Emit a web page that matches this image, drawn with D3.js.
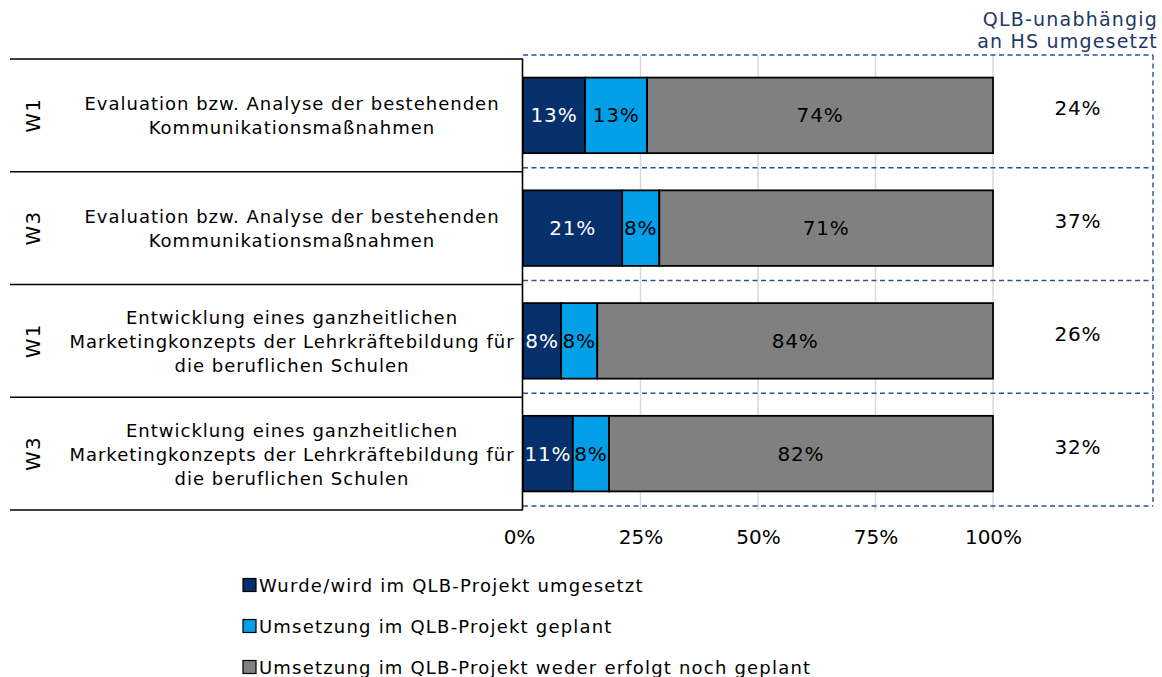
<!DOCTYPE html>
<html><head><meta charset="utf-8">
<script src="https://cdn.jsdelivr.net/npm/d3@7"></script>
<style>
body{margin:0;background:#fff;}
svg text{font-family:"DejaVu Sans",Verdana,sans-serif;}
</style></head>
<body><svg id="c" width="1162" height="677"></svg>
<script>
const waves = ["W1","W3","W1","W3"];
const itemLines = [
  ["Evaluation bzw. Analyse der bestehenden","Kommunikationsmaßnahmen"],
  ["Evaluation bzw. Analyse der bestehenden","Kommunikationsmaßnahmen"],
  ["Entwicklung eines ganzheitlichen","Marketingkonzepts der Lehrkräftebildung für","die beruflichen Schulen"],
  ["Entwicklung eines ganzheitlichen","Marketingkonzepts der Lehrkräftebildung für","die beruflichen Schulen"]
];
const seriesNames = ["Wurde/wird im QLB-Projekt umgesetzt","Umsetzung im QLB-Projekt geplant","Umsetzung im QLB-Projekt weder erfolgt noch geplant"];
const umgesetzt = [13.2, 21.1, 8.1, 10.6];
const geplant = [13.2, 7.9, 7.7, 7.7];
const weder = [73.6, 71.0, 84.2, 81.7];
const unabhaengig = [24, 37, 26, 32];
const ticks = [0, 25, 50, 75, 100];
const tickLabels = ["0%","25%","50%","75%","100%"];
const colors = ["#06306b","#009fe8","#808080"];
const textColors = ["#ffffff","#000000","#000000"];

const svg = d3.select("#c");
const rows = d3.range(waves.length);
const x = d3.scaleLinear().domain([0,100]).range([523,993]);
const y = d3.scaleBand().domain(rows).range([59,510]).paddingInner(0.33).paddingOuter(0.165);
const rowY = d3.scaleBand().domain(rows).range([59,510]);

// gridlines
svg.append("g").selectAll("line").data(ticks.slice(1)).join("line")
  .attr("x1",d=>x(d)).attr("x2",d=>x(d)).attr("y1",55).attr("y2",510)
  .attr("stroke","#d9d9d9").attr("stroke-width",1.5);

// dashed box
const dashY = d3.scaleLinear().domain([0,4]).range([55,506]);
const dash = svg.append("g").attr("stroke","#2a5392").attr("stroke-width",1.4).attr("stroke-dasharray","5,3.5").attr("fill","none");
dash.selectAll("line").data(d3.range(5)).join("line")
  .attr("x1",523).attr("x2",1153).attr("y1",d=>dashY(d)).attr("y2",d=>dashY(d));
dash.append("line").attr("x1",1153).attr("x2",1153).attr("y1",55).attr("y2",506);

// left label box
const lb = svg.append("g");
lb.selectAll("line.h").data(d3.range(5)).join("line").attr("class","h")
  .attr("x1",10).attr("x2",523).attr("y1",d=>d<4?rowY(d):510).attr("y2",d=>d<4?rowY(d):510)
  .attr("stroke","#000").attr("stroke-width",1.6);
lb.append("line").attr("x1",522.5).attr("x2",522.5).attr("y1",59).attr("y2",510).attr("stroke","#000").attr("stroke-width",1.6);

rows.forEach(i=>{
  const cy = rowY(i)+rowY.bandwidth()/2;
  svg.append("text").attr("transform",`translate(40,${cy}) rotate(-90)`)
    .attr("text-anchor","middle").attr("font-size",20).attr("letter-spacing",1).attr("fill","#000").text(waves[i]);
  const lines = itemLines[i];
  const lh = 24;
  const t = svg.append("text").attr("text-anchor","middle").attr("font-size",18).attr("letter-spacing",1).attr("fill","#000");
  lines.forEach((l,k)=>{
    t.append("tspan").attr("x",292).attr("y",cy + (k-(lines.length-1)/2)*lh + 7).text(l);
  });
});

// stacked bars
const data = rows.map(i=>({i, v:[umgesetzt[i],geplant[i],weder[i]]}));
const segs = [];
data.forEach(d=>{
  let acc=0;
  d.v.forEach((v,s)=>{segs.push({i:d.i,s,x0:acc,x1:acc+v,v}); acc+=v;});
});
const bars = svg.append("g");
bars.selectAll("rect").data(segs).join("rect")
  .attr("x",d=>x(d.x0)).attr("width",d=>x(d.x1)-x(d.x0))
  .attr("y",d=>y(d.i)).attr("height",y.bandwidth())
  .attr("fill",d=>colors[d.s]).attr("stroke","#000").attr("stroke-width",1.8);
bars.selectAll("text").data(segs).join("text")
  .attr("x",d=>(x(d.x0)+x(d.x1))/2).attr("y",d=>y(d.i)+y.bandwidth()/2+7)
  .attr("text-anchor","middle").attr("font-size",20).attr("letter-spacing",0.8).attr("fill",d=>textColors[d.s])
  .text(d=>Math.round(d.v)+"%");

// right values
svg.append("g").selectAll("text").data(rows).join("text")
  .attr("x",1078).attr("y",i=>rowY(i)+rowY.bandwidth()/2)
  .attr("text-anchor","middle").attr("font-size",20).attr("letter-spacing",0.8).attr("fill","#000")
  .text(i=>unabhaengig[i]+"%");

// header
const hd = svg.append("text").attr("text-anchor","end").attr("font-size",19).attr("letter-spacing",1.2).attr("fill","#1f3864");
hd.append("tspan").attr("x",1158).attr("y",26).text("QLB-unabhängig");
hd.append("tspan").attr("x",1158).attr("y",48).text("an HS umgesetzt");

// axis
const ax = svg.append("g").attr("transform","translate(0,530)")
  .call(d3.axisBottom(x).tickValues(ticks).tickFormat((d,k)=>tickLabels[k]).tickSize(0).tickPadding(0));
ax.select(".domain").remove();
ax.selectAll("text").attr("font-size",20).attr("fill","#000").attr("font-family","DejaVu Sans").attr("dy","0.7em");
ax.selectAll(".tick").filter(d=>d===0).select("text").attr("dx",-4);

// legend
const lg = svg.append("g").selectAll("g").data(seriesNames).join("g")
  .attr("transform",(d,k)=>`translate(243,${585+k*41})`);
lg.append("rect").attr("x",0).attr("y",-6.5).attr("width",13).attr("height",13)
  .attr("fill",(d,k)=>colors[k]).attr("stroke","#000").attr("stroke-width",1.2);
lg.append("text").attr("x",16).attr("y",6.5).attr("font-size",18).attr("letter-spacing",1.2).attr("fill","#000").text(d=>d);
</script></body></html>
